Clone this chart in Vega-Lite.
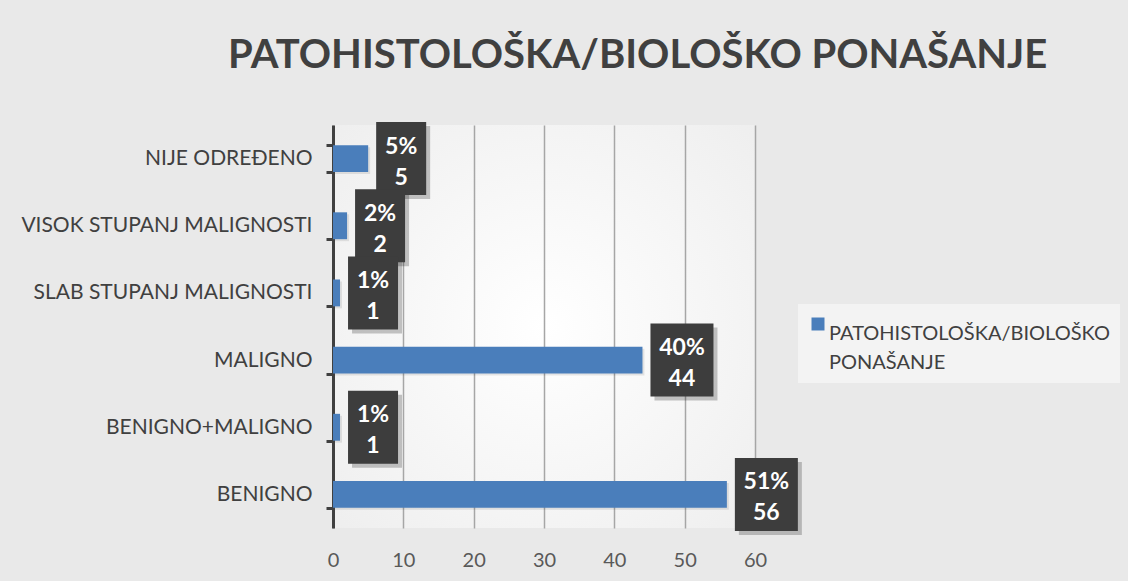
{
  "$schema": "https://vega.github.io/schema/vega-lite/v6.json",
  "width": 422,
  "height": 403,
  "autosize": {"type": "none"},
  "padding": {"left": 333, "top": 125, "right": 373, "bottom": 53},
  "background": "#e9e9e9",
  "title": {
    "text": "PATOHISTOLOŠKA/BIOLOŠKO PONAŠANJE",
    "anchor": "start",
    "frame": "group",
    "dx": -105,
    "offset": 6,
    "font": "Lato",
    "fontSize": 40,
    "fontWeight": "bold",
    "color": "#404040",
    "baseline": "alphabetic"
  },
  "data": {
    "values": [
      {"kategorija": "NIJE ODREĐENO", "broj": 5, "oznaka": "5%\n5"},
      {"kategorija": "VISOK STUPANJ MALIGNOSTI", "broj": 2, "oznaka": "2%\n2"},
      {"kategorija": "SLAB STUPANJ MALIGNOSTI", "broj": 1, "oznaka": "1%\n1"},
      {"kategorija": "MALIGNO", "broj": 44, "oznaka": "40%\n44"},
      {"kategorija": "BENIGNO+MALIGNO", "broj": 1, "oznaka": "1%\n1"},
      {"kategorija": "BENIGNO", "broj": 56, "oznaka": "51%\n56"}
    ]
  },
  "encoding": {
    "y": {
      "field": "kategorija",
      "type": "nominal",
      "sort": ["NIJE ODREĐENO", "VISOK STUPANJ MALIGNOSTI", "SLAB STUPANJ MALIGNOSTI", "MALIGNO", "BENIGNO+MALIGNO", "BENIGNO"],
      "scale": {"paddingInner": 0.6, "paddingOuter": 0.3},
      "axis": {
        "title": null,
        "grid": false,
        "domainColor": "#404040",
        "domainWidth": 3,
        "tickColor": "#404040",
        "tickWidth": 3,
        "tickSize": 7,
        "tickBand": "extent",
        "labelFont": "Lato",
        "labelFontSize": 21,
        "labelColor": "#404040",
        "labelPadding": 14,
        "labelLimit": 400
      }
    },
    "x": {
      "field": "broj",
      "type": "quantitative",
      "scale": {"domain": [0, 60], "nice": false},
      "axis": {
        "title": null,
        "values": [0, 10, 20, 30, 40, 50, 60],
        "domain": false,
        "ticks": false,
        "grid": true,
        "gridColor": "#a6a6a6",
        "gridWidth": 1.5,
        "labelFont": "Lato",
        "labelFontSize": 20,
        "labelColor": "#595959",
        "labelPadding": 22,
        "labelFlush": false
      }
    }
  },
  "layer": [
    {"mark": {"type": "bar", "color": "#000000", "opacity": 0.09, "xOffset": 2, "yOffset": 2}},
    {
      "mark": {"type": "bar"},
      "encoding": {
        "color": {
          "datum": "PATOHISTOLOŠKA/BIOLOŠKO PONAŠANJE",
          "scale": {"range": ["#4a7ebb"]},
          "legend": {
            "title": null,
            "orient": "none",
            "legendX": 465,
            "legendY": 179,
            "fillColor": "#f3f3f3",
            "padding": 10,
            "symbolType": "square",
            "symbolSize": 169,
            "symbolStrokeWidth": 0,
            "labelFont": "Lato",
            "labelFontSize": 20,
            "labelColor": "#404040",
            "labelExpr": "split(datum.label, ' ')",
            "labelLimit": 400,
            "labelBaseline": "top",
            "labelOffset": 1
          }
        }
      }
    },
    {
      "transform": [{"filter": "datum.broj < 10"}],
      "layer": [
        {"mark": {"type": "point", "shape": "M-0.685,-1L0.685,-1L0.685,1L-0.685,1Z", "size": 5329, "filled": true, "color": "#000000", "opacity": 0.22, "strokeWidth": 0, "xOffset": 37, "yOffset": 4}},
        {"mark": {"type": "point", "shape": "M-0.685,-1L0.685,-1L0.685,1L-0.685,1Z", "size": 5329, "filled": true, "color": "#3d3d3d", "opacity": 1, "strokeWidth": 0, "xOffset": 33}},
        {"mark": {"type": "text", "color": "#ffffff", "font": "Lato", "fontWeight": "bold", "fontSize": 23, "lineBreak": "\n", "lineHeight": 31, "align": "center", "baseline": "middle", "xOffset": 33, "dy": -12}, "encoding": {"text": {"field": "oznaka"}}}
      ]
    },
    {
      "transform": [{"filter": "datum.broj >= 10"}],
      "layer": [
        {"mark": {"type": "point", "shape": "M-0.863,-1L0.863,-1L0.863,1L-0.863,1Z", "size": 5329, "filled": true, "color": "#000000", "opacity": 0.22, "strokeWidth": 0, "xOffset": 43.5, "yOffset": 4}},
        {"mark": {"type": "point", "shape": "M-0.863,-1L0.863,-1L0.863,1L-0.863,1Z", "size": 5329, "filled": true, "color": "#3d3d3d", "opacity": 1, "strokeWidth": 0, "xOffset": 39.5}},
        {"mark": {"type": "text", "color": "#ffffff", "font": "Lato", "fontWeight": "bold", "fontSize": 23, "lineBreak": "\n", "lineHeight": 31, "align": "center", "baseline": "middle", "xOffset": 39.5, "dy": -12}, "encoding": {"text": {"field": "oznaka"}}}
      ]
    }
  ],
  "config": {
    "view": {
      "stroke": null,
      "fill": {
        "gradient": "radial",
        "x1": 0.5, "y1": 0.5, "r1": 0,
        "x2": 0.5, "y2": 0.5, "r2": 0.75,
        "stops": [{"offset": 0, "color": "#ffffff"}, {"offset": 1, "color": "#ededed"}]
      }
    },
    "style": {"guide-label": {"lineHeight": 29}}
  }
}
